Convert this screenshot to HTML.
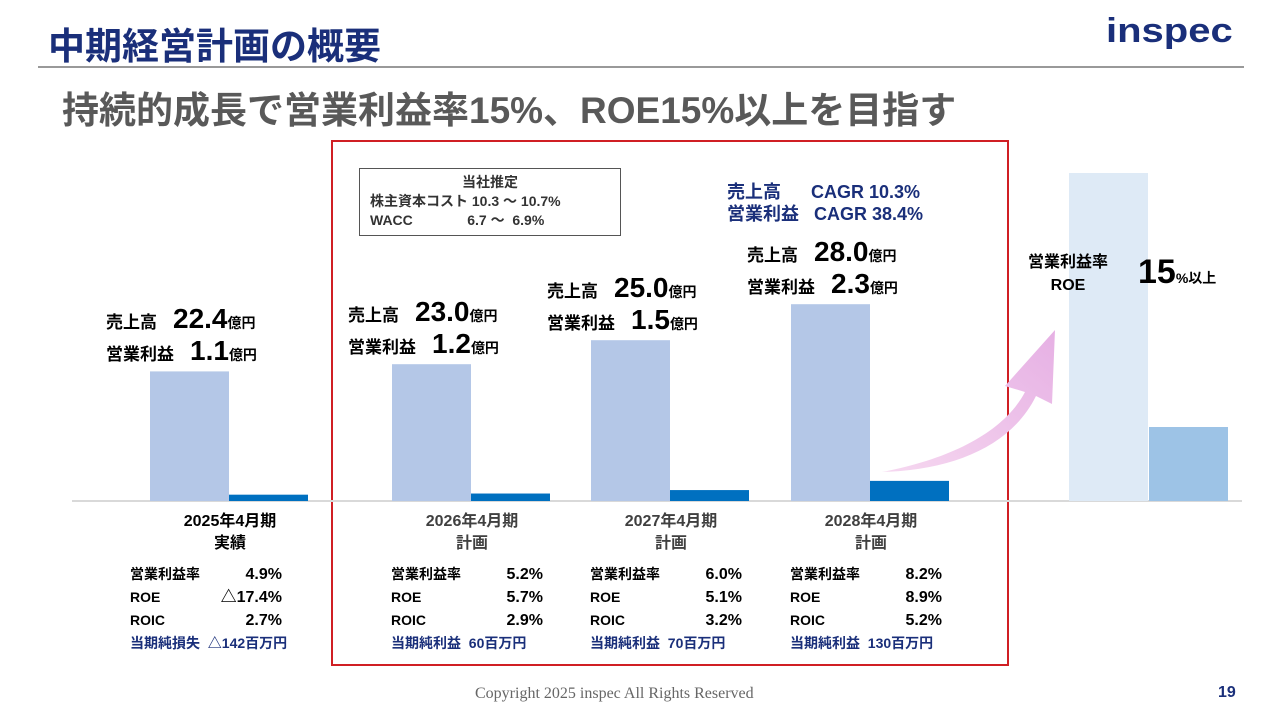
<!DOCTYPE html>
<html><head><meta charset="utf-8">
<style>
body{margin:0;width:1280px;height:720px;background:#fff;position:relative;overflow:hidden;font-family:"Liberation Sans","Noto Sans CJK JP",sans-serif;color:#000}
.a{position:absolute;white-space:nowrap}
.b{font-weight:bold}
</style></head><body>
<div class="a b" style="left:48px;top:16px;font-size:37px;color:#1a2f7a">中期経営計画の概要</div>
<div class="a b" style="left:1106px;top:12px;font-size:40px;color:#1a2f7a;letter-spacing:0px;transform:scaleY(0.85);transform-origin:left top">inspec</div>
<div class="a" style="left:38px;top:66px;width:1206px;height:2px;background:#999"></div>
<div class="a b" style="left:62px;top:80px;font-size:37px;color:#595959">持続的成長で営業利益率15%、ROE15%以上を目指す</div>
<div class="a" style="left:331px;top:140px;width:674px;height:522px;border:2px solid #d01f24"></div>
<div class="a" style="left:359px;top:168px;width:260px;height:66px;border:1px solid #555;font-size:14px;font-weight:bold;color:#333;line-height:19px">
<div style="text-align:center;margin-top:4px">当社推定</div>
<div style="margin-left:10px">株主資本コスト 10.3 ～ 10.7%</div>
<div style="margin-left:10px">WACC&nbsp;&nbsp;&nbsp;&nbsp;&nbsp;&nbsp;&nbsp;&nbsp;&nbsp;&nbsp;&nbsp;&nbsp;&nbsp;&nbsp;6.7 ～&nbsp;&nbsp;6.9%</div></div>
<div class="a b" style="left:727px;top:181px;font-size:18px;line-height:22px;color:#1a2f7a">売上高&nbsp;&nbsp;&nbsp;&nbsp;&nbsp;&nbsp;CAGR 10.3%<br>営業利益&nbsp;&nbsp;&nbsp;CAGR 38.4%</div>
<svg class="a" style="left:0;top:0" width="1280" height="720">
<defs><linearGradient id="g" x1="0" y1="1" x2="1" y2="0"><stop offset="0" stop-color="#f6d8f0"/><stop offset="1" stop-color="#e6b0e4"/></linearGradient></defs>
<line x1="72" y1="501" x2="1242" y2="501" stroke="#d9d9d9" stroke-width="2"/>
<path d="M882,472 C955,458 1005,430 1025,392 L1005,386 L1055,330 L1052,404 L1036,396 C1012,445 955,470 882,472 Z" fill="url(#g)"/>
<rect x="1069" y="173" width="79" height="328" fill="#deeaf6"/>
<rect x="1149" y="427" width="79" height="74" fill="#9dc3e6"/>
<g id="bars"></g>
</svg>
<div class="a b" style="left:1028px;top:251px;font-size:16px;text-align:center;line-height:23px">営業利益率<br>ROE</div>
<div class="a b" style="left:1138px;top:253px;font-size:34px">15<span style="font-size:14px">%以上</span></div>
<div id="labels"></div>
<div class="a" style="left:475px;top:685px;font-size:16px;font-family:'Liberation Serif',serif;color:#666">Copyright 2025 inspec All Rights Reserved</div>
<div class="a b" style="left:1218px;top:684px;font-size:16px;color:#1a2f7a">19</div>
<script>
const periods=["2025年4月期","2026年4月期","2027年4月期","2028年4月期"];
const subLabels=["実績","計画","計画","計画"];
const sales=[22.4,23.0,25.0,28.0];
const profit=[1.1,1.2,1.5,2.3];
const margin=["4.9%","5.2%","6.0%","8.2%"];
const roe=["△17.4%","5.7%","5.1%","8.9%"];
const roic=["2.7%","2.9%","3.2%","5.2%"];
const netLabel=["当期純損失","当期純利益","当期純利益","当期純利益"];
const netVal=["△142百万円","60百万円","70百万円","130百万円"];
const base=501;
const groupX=i=>[150,392,591,791][i];
const ySales=v=>base-(v-11.6)*12.0;
const yProfit=v=>base-(v-0.55)*11.5;
const ns="http://www.w3.org/2000/svg";
const g=document.getElementById('bars');
const L=document.getElementById('labels');
function div(html,style){const d=document.createElement('div');d.className='a b';d.innerHTML=html;d.style.cssText=style;L.appendChild(d);return d;}
periods.forEach((p,i)=>{
 const x=groupX(i);
 const r=document.createElementNS(ns,'rect');
 r.setAttribute('x',x);r.setAttribute('width',79);r.setAttribute('y',ySales(sales[i]));r.setAttribute('height',base-ySales(sales[i]));r.setAttribute('fill','#b4c7e7');
 
 
 g.appendChild(r);
 const q=document.createElementNS(ns,'rect');
 q.setAttribute('x',x+79);q.setAttribute('width',79);q.setAttribute('y',yProfit(profit[i]));q.setAttribute('height',base-yProfit(profit[i]));q.setAttribute('fill','#0070c0');
 
 
 g.appendChild(q);
 const ty=ySales(sales[i]);
 const d1=div('売上高<span style="display:inline-block;width:16px"></span><span style="font-size:28px">'+sales[i].toFixed(1)+'</span><span style="font-size:14px">億円</span>','left:'+(x-44)+'px;top:'+(ty-68)+'px;font-size:17px');
 
 
 const d2=div('営業利益<span style="display:inline-block;width:16px"></span><span style="font-size:28px">'+profit[i].toFixed(1)+'</span><span style="font-size:14px">億円</span>','left:'+(x-44)+'px;top:'+(ty-36)+'px;font-size:17px');
 
 
 const d3=div(p+'<br>'+subLabels[i],'left:'+(x-10)+'px;top:511px;width:180px;text-align:center;font-size:16px;line-height:22px;color:'+(i==0?'#000':'#404040'));
 
 
 const row=(a,b)=>'<div style="display:flex;justify-content:space-between;width:152px">'+a+'<span style="font-size:16px">'+b+'</span></div>';
 const d4=div(row('営業利益率',margin[i])+row('ROE',roe[i])+row('ROIC',roic[i])+'<div style="color:#1a2f7a">'+netLabel[i]+'&nbsp;&nbsp;'+netVal[i]+'</div>','left:'+(i==0?130:x-1)+'px;top:563px;font-size:14px;line-height:23px');
 
 
});
</script>
</body></html>
